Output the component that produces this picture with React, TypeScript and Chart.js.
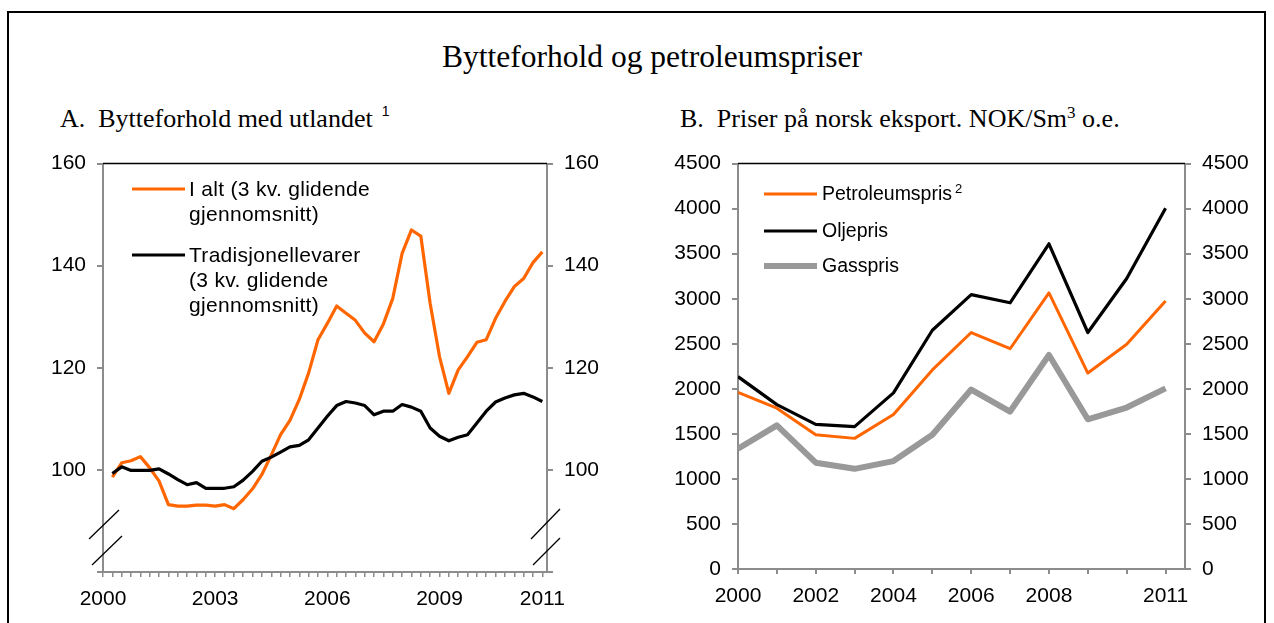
import React, { useEffect, useRef } from "react";
import { Chart, registerables } from "chart.js";

Chart.register(...registerables);

// ---------- Panel A: Bytteforhold med utlandet (kvartal) ----------
const quarters = [
  "2000K2", "2000K3", "2000K4",
  "2001K1", "2001K2", "2001K3", "2001K4",
  "2002K1", "2002K2", "2002K3", "2002K4",
  "2003K1", "2003K2", "2003K3", "2003K4",
  "2004K1", "2004K2", "2004K3", "2004K4",
  "2005K1", "2005K2", "2005K3", "2005K4",
  "2006K1", "2006K2", "2006K3", "2006K4",
  "2007K1", "2007K2", "2007K3", "2007K4",
  "2008K1", "2008K2", "2008K3", "2008K4",
  "2009K1", "2009K2", "2009K3", "2009K4",
  "2010K1", "2010K2", "2010K3", "2010K4",
  "2011K1", "2011K2", "2011K3", "2011K4",
];
const ialt = [
  98.6, 101.4, 101.8, 102.6, 100.4, 97.8, 93.2, 92.9, 92.9, 93.1,
  93.1, 92.9, 93.2, 92.4, 94.2, 96.3, 99.1, 102.9, 106.9, 109.7,
  113.8, 119.0, 125.5, 128.7, 132.1, 130.7, 129.3, 126.8, 125.1, 128.6,
  133.6, 142.4, 147.0, 145.8, 132.6, 122.2, 115.0, 119.6, 122.2, 125.0,
  125.5, 129.7, 133.0, 135.9, 137.5, 140.6, 142.7,
];
const tradisjonelle = [
  99.3, 100.6, 99.9, 99.9, 99.9, 100.2, 99.2, 98.1, 97.1, 97.5,
  96.4, 96.4, 96.4, 96.7, 98.0, 99.7, 101.7, 102.5, 103.5, 104.5,
  104.8, 105.9, 108.2, 110.5, 112.6, 113.4, 113.1, 112.6, 110.8, 111.5,
  111.5, 112.8, 112.3, 111.5, 108.2, 106.6, 105.7, 106.4, 106.9, 109.2,
  111.5, 113.3, 114.1, 114.7, 115.0, 114.3, 113.4,
];
const panelAXLabels: [string, string][] = [
  ["2000K1", "2000"],
  ["2003K1", "2003"],
  ["2006K1", "2006"],
  ["2009K1", "2009"],
  ["2011K4", "2011"],
];
const panelAYMin = 80;
const panelAYMax = 160;
const panelAYStep = 20;

// ---------- Panel B: Priser på norsk eksport ----------
const years = [2000, 2001, 2002, 2003, 2004, 2005, 2006, 2007, 2008, 2009, 2010, 2011];
const petroleumspris = [1960, 1785, 1490, 1450, 1715, 2210, 2625, 2445, 3065, 2175, 2495, 2975];
const oljepris = [2135, 1825, 1605, 1580, 1955, 2650, 3045, 2955, 3610, 2625, 3225, 4005];
const gasspris = [1335, 1595, 1180, 1112, 1198, 1490, 1992, 1748, 2375, 1662, 1792, 2005];
const panelBXLabels = ["2000", "2002", "2004", "2006", "2008", "2011"];
const panelBYMin = 0;
const panelBYMax = 4500;
const panelBYStep = 500;

// ---------- styling ----------
const SANS = "'Liberation Sans', Arial, sans-serif";
const SERIF = "'Liberation Serif', 'Times New Roman', serif";
const ORANGE = "#FF6600";
const GREY_LINE = "#999999";
const AXIS = "#8c8c8c";

const qpos = (q: string) => (parseInt(q.slice(0, 4)) - 2000) * 4 + (parseInt(q.slice(5)) - 1);

const framePlugin = {
  id: "frameTop",
  afterDraw(chart: any) {
    const { ctx, chartArea } = chart;
    ctx.save();
    ctx.strokeStyle = "#000";
    ctx.lineWidth = 1.5;
    ctx.beginPath();
    ctx.moveTo(chartArea.left, chartArea.top);
    ctx.lineTo(chartArea.right, chartArea.top);
    ctx.stroke();
    ctx.restore();
  },
};

const breakPlugin = {
  id: "axisBreaks",
  afterDraw(chart: any) {
    const { ctx, chartArea } = chart;
    const b = chartArea.bottom;
    ctx.save();
    ctx.strokeStyle = "#000";
    ctx.lineWidth = 1.3;
    const seg = (x1: number, y1: number, x2: number, y2: number) => {
      ctx.beginPath();
      ctx.moveTo(x1, y1);
      ctx.lineTo(x2, y2);
      ctx.stroke();
    };
    const L = chartArea.left;
    const R = chartArea.right;
    seg(L - 14, b - 33, L + 16, b - 62);
    seg(L - 11, b - 7, L + 19, b - 36);
    seg(R - 16, b - 33, R + 13, b - 63);
    seg(R - 14, b - 7, R + 13, b - 34);
    ctx.restore();
  },
};

const legendPlugin = {
  id: "customLegend",
  afterDraw(chart: any, _args: any, opts: any) {
    const { ctx } = chart;
    ctx.save();
    ctx.textBaseline = "middle";
    ctx.textAlign = "left";
    ctx.fillStyle = "#000";
    for (const it of opts.items) {
      ctx.strokeStyle = it.color;
      ctx.lineWidth = it.width;
      ctx.lineCap = "butt";
      ctx.beginPath();
      ctx.moveTo(opts.x1, it.y);
      ctx.lineTo(opts.x2, it.y);
      ctx.stroke();
      ctx.font = `${opts.size}px ${SANS}`;
      (ctx as any).letterSpacing = opts.spacing || "0px";
      it.lines.forEach((t: string, i: number) => ctx.fillText(t, opts.tx, it.y + 1 + i * opts.lh));
      if (it.sup) {
        const w = ctx.measureText(it.lines[0]).width;
        ctx.font = `13px ${SANS}`;
        ctx.fillText(it.sup, opts.tx + w + 3, it.y - 5);
      }
    }
    ctx.restore();
  },
};

const tickFont = { family: SANS, size: 21 };

function yAxis(position: "left" | "right", min: number, max: number, step: number, width: number, hideMin: boolean) {
  return {
    type: "linear" as const,
    position,
    min,
    max,
    ticks: {
      stepSize: step,
      color: "#000",
      font: tickFont,
      padding: 11,
      callback: (v: any) => (hideMin && v === min ? "" : String(v)),
    },
    grid: { drawOnChartArea: false, drawTicks: true, tickLength: 6, color: AXIS, lineWidth: 2 },
    border: { display: true, color: AXIS, width: 2 },
    afterFit: (s: any) => {
      s.width = width;
    },
  };
}

export default function App() {
  const refA = useRef<HTMLCanvasElement | null>(null);
  const refB = useRef<HTMLCanvasElement | null>(null);

  useEffect(() => {
    const labelMapA: Record<number, string> = {};
    panelAXLabels.forEach(([q, t]) => (labelMapA[qpos(q)] = t));
    const lastA = qpos(quarters[quarters.length - 1]);

    const chartA = new Chart(refA.current as HTMLCanvasElement, {
      type: "line",
      data: {
        datasets: [
          {
            label: "Tradisjonelle varer",
            data: tradisjonelle.map((v, i) => ({ x: qpos(quarters[i]), y: v })),
            borderColor: "#000",
            borderWidth: 3.2,
            pointRadius: 0,
            tension: 0,
            borderJoinStyle: "round",
            order: 0,
            yAxisID: "y",
          },
          {
            label: "I alt",
            data: ialt.map((v, i) => ({ x: qpos(quarters[i]), y: v })),
            borderColor: ORANGE,
            borderWidth: 3.2,
            pointRadius: 0,
            tension: 0,
            borderJoinStyle: "round",
            order: 1,
            yAxisID: "y",
          },
        ],
      },
      options: {
        responsive: false,
        animation: false,
        layout: { padding: { top: 20, bottom: 0, left: 0, right: 0 } },
        plugins: {
          legend: { display: false },
          tooltip: { enabled: false },
          customLegend: {
            x1: 132,
            x2: 185,
            tx: 189,
            lh: 25,
            size: 21,
            spacing: "0.3px",
            items: [
              { color: ORANGE, width: 3.2, y: 49, lines: ["I alt (3 kv. glidende", "gjennomsnitt)"] },
              { color: "#000", width: 3.2, y: 115, lines: ["Tradisjonellevarer", "(3 kv. glidende", "gjennomsnitt)"] },
            ],
          },
        } as any,
        scales: {
          x: {
            type: "linear",
            min: 0,
            max: lastA + 0.5,
            bounds: "data",
            afterBuildTicks: (s: any) => {
              s.ticks = Array.from({ length: lastA + 1 }, (_, i) => ({ value: i }));
            },
            ticks: {
              autoSkip: false,
              maxRotation: 0,
              color: "#000",
              font: tickFont,
              padding: 10,
              callback: (v: any) => labelMapA[v] ?? "",
            },
            grid: { drawOnChartArea: false, drawTicks: true, tickLength: 5, color: AXIS, lineWidth: 1.5 },
            border: { display: true, color: AXIS, width: 2 },
            afterFit: (s: any) => {
              s.height = 51;
            },
          },
          y: yAxis("left", panelAYMin, panelAYMax, panelAYStep, 103, true),
          y2: yAxis("right", panelAYMin, panelAYMax, panelAYStep, 93, true),
        } as any,
      },
      plugins: [framePlugin, breakPlugin, legendPlugin],
    });

    const chartB = new Chart(refB.current as HTMLCanvasElement, {
      type: "line",
      data: {
        datasets: [
          {
            label: "Gasspris",
            data: gasspris.map((v, i) => ({ x: years[i], y: v })),
            borderColor: GREY_LINE,
            borderWidth: 6,
            pointRadius: 0,
            tension: 0,
            borderJoinStyle: "round",
            order: 0,
          },
          {
            label: "Oljepris",
            data: oljepris.map((v, i) => ({ x: years[i], y: v })),
            borderColor: "#000",
            borderWidth: 3.2,
            pointRadius: 0,
            tension: 0,
            borderJoinStyle: "round",
            order: 1,
          },
          {
            label: "Petroleumspris",
            data: petroleumspris.map((v, i) => ({ x: years[i], y: v })),
            borderColor: ORANGE,
            borderWidth: 3,
            pointRadius: 0,
            tension: 0,
            borderJoinStyle: "round",
            order: 2,
          },
        ],
      },
      options: {
        responsive: false,
        animation: false,
        layout: { padding: { top: 20, bottom: 0, left: 0, right: 0 } },
        plugins: {
          legend: { display: false },
          tooltip: { enabled: false },
          customLegend: {
            x1: 124,
            x2: 177,
            tx: 182,
            lh: 25,
            size: 19.5,
            spacing: "0px",
            items: [
              { color: ORANGE, width: 3.2, y: 54, lines: ["Petroleumspris"], sup: "2" },
              { color: "#000", width: 3.2, y: 91, lines: ["Oljepris"] },
              { color: GREY_LINE, width: 6, y: 126, lines: ["Gasspris"] },
            ],
          },
        } as any,
        scales: {
          x: {
            type: "linear",
            min: years[0],
            max: years[years.length - 1] + 0.5,
            bounds: "data",
            afterBuildTicks: (s: any) => {
              s.ticks = years.map((y) => ({ value: y }));
            },
            ticks: {
              autoSkip: false,
              maxRotation: 0,
              color: "#000",
              font: tickFont,
              padding: 10,
              callback: (v: any) => (panelBXLabels.includes(String(v)) ? String(v) : ""),
            },
            grid: { drawOnChartArea: false, drawTicks: true, tickLength: 5, color: AXIS, lineWidth: 2 },
            border: { display: true, color: AXIS, width: 2 },
            afterFit: (s: any) => {
              s.height = 54;
            },
          },
          y: yAxis("left", panelBYMin, panelBYMax, panelBYStep, 98, false),
          y2: yAxis("right", panelBYMin, panelBYMax, panelBYStep, 89, false),
        } as any,
      },
      plugins: [framePlugin, legendPlugin],
    });

    return () => {
      chartA.destroy();
      chartB.destroy();
    };
  }, []);

  return (
    <div
      style={{
        position: "absolute",
        left: 0,
        top: 0,
        width: 1274,
        height: 623,
        overflow: "hidden",
        background: "#fff",
      }}
    >
      <div
        style={{
          position: "absolute",
          left: 7,
          top: 11,
          width: 1255,
          height: 700,
          borderTop: "2px solid #000",
          borderLeft: "2px solid #000",
          borderRight: "2px solid #000",
        }}
      />
      <div
        style={{
          position: "absolute",
          left: 652,
          top: 41,
          transform: "translateX(-50%)",
          whiteSpace: "nowrap",
          fontFamily: SERIF,
          fontSize: 31.5,
          lineHeight: "31px",
          color: "#000",
        }}
      >
        Bytteforhold og petroleumspriser
      </div>
      <div
        style={{
          position: "absolute",
          left: 60,
          top: 106,
          whiteSpace: "pre",
          fontFamily: SERIF,
          fontSize: 26,
          lineHeight: "26px",
          color: "#000",
        }}
      >
        {"A.  Bytteforhold med utlandet"}
        <span style={{ fontFamily: SANS, fontSize: 14, position: "relative", top: -11, marginLeft: 9 }}>1</span>
      </div>
      <div
        style={{
          position: "absolute",
          left: 680,
          top: 106,
          whiteSpace: "pre",
          fontFamily: SERIF,
          fontSize: 26,
          lineHeight: "26px",
          color: "#000",
        }}
      >
        {"B.  Priser på norsk eksport. NOK/Sm"}
        <span style={{ fontSize: 17, position: "relative", top: -9 }}>3</span>
        {" o.e."}
      </div>
      <canvas
        ref={refA}
        width={640}
        height={483}
        style={{ position: "absolute", left: 0, top: 140, display: "block" }}
      />
      <canvas
        ref={refB}
        width={634}
        height={483}
        style={{ position: "absolute", left: 640, top: 140, display: "block" }}
      />
    </div>
  );
}
